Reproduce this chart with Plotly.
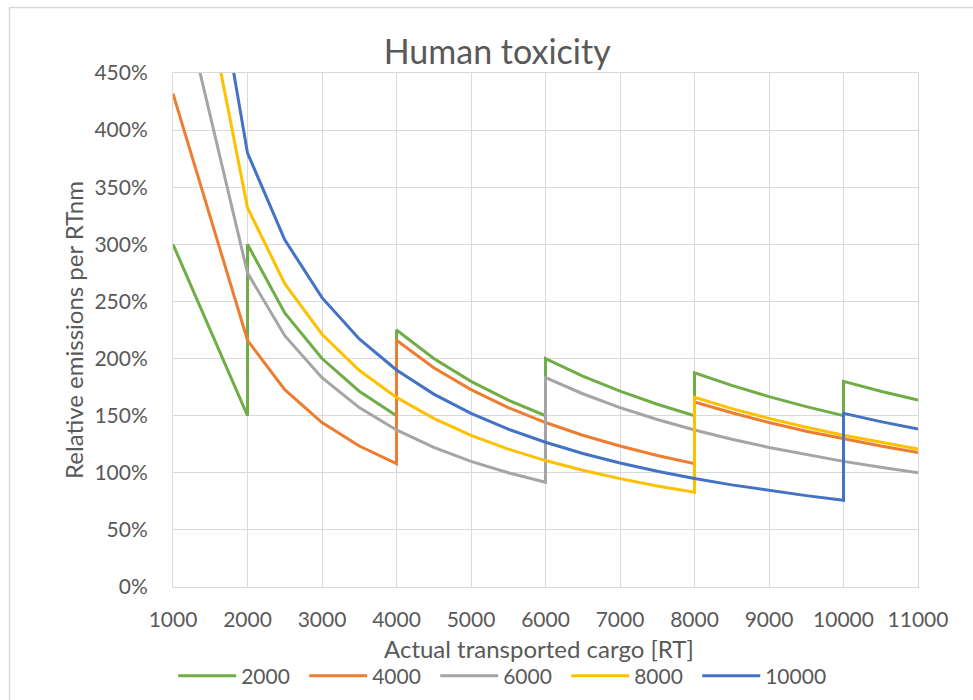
import plotly.graph_objects as go

# Relative emissions per RTnm (%) against actual transported cargo (RT),
# one series per vessel size. Repeated x values mark the step where an
# extra vessel is needed.
series_names = ["2000", "4000", "6000", "8000", "10000"]
series_colors = ["#70AD47", "#ED7D31", "#A5A5A5", "#FFC000", "#4472C4"]

x_2000 = [1000, 2000, 2000, 2500, 3000, 3500, 4000, 4000, 4500, 5000, 5500, 6000,
          6000, 6500, 7000, 7500, 8000, 8000, 8500, 9000, 9500, 10000, 10000, 10500, 11000]
y_2000 = [300, 150, 300, 240, 200, 171.4, 150, 225, 200, 180, 163.6, 150,
          200, 184.6, 171.4, 160, 150, 187.5, 176.5, 166.7, 157.9, 150, 180, 171.4, 163.6]

x_4000 = [1000, 2000, 2500, 3000, 3500, 4000, 4000, 4500, 5000, 5500, 6000, 6500,
          7000, 7500, 8000, 8000, 8500, 9000, 9500, 10000, 10500, 11000]
y_4000 = [432, 216, 172.8, 144, 123.4, 108, 216, 192, 172.8, 157.1, 144, 132.9,
          123.4, 115.2, 108, 162, 152.5, 144, 136.4, 129.6, 123.4, 117.8]

x_6000 = [1000, 2000, 2500, 3000, 3500, 4000, 4500, 5000, 5500, 6000, 6000, 6500,
          7000, 7500, 8000, 8500, 9000, 9500, 10000, 10500, 11000]
y_6000 = [550, 275, 220, 183.3, 157.1, 137.5, 122.2, 110, 100, 91.7, 183.3, 169.2,
          157.1, 146.7, 137.5, 129.4, 122.2, 115.8, 110, 104.8, 100]

x_8000 = [1000, 2000, 2500, 3000, 3500, 4000, 4500, 5000, 5500, 6000, 6500, 7000,
          7500, 8000, 8000, 8500, 9000, 9500, 10000, 10500, 11000]
y_8000 = [664, 332, 265.6, 221.3, 189.7, 166, 147.6, 132.8, 120.7, 110.7, 102.2, 94.9,
          88.5, 83, 166, 156.2, 147.6, 139.8, 132.8, 126.5, 120.7]

x_10000 = [1000, 2000, 2500, 3000, 3500, 4000, 4500, 5000, 5500, 6000, 6500, 7000,
           7500, 8000, 8500, 9000, 9500, 10000, 10000, 10500, 11000]
y_10000 = [760, 380, 304, 253.3, 217.1, 190, 168.9, 152, 138.2, 126.7, 116.9, 108.6,
           101.3, 95, 89.4, 84.4, 80, 76, 152, 144.8, 138.2]

x_ticks = [1000, 2000, 3000, 4000, 5000, 6000, 7000, 8000, 9000, 10000, 11000]
y_ticks = [0, 50, 100, 150, 200, 250, 300, 350, 400, 450]
y_tick_labels = ["0%", "50%", "100%", "150%", "200%", "250%", "300%", "350%", "400%", "450%"]

xs = [x_2000, x_4000, x_6000, x_8000, x_10000]
ys = [y_2000, y_4000, y_6000, y_8000, y_10000]

FONT = "Lato"
TEXT = "#595959"
GRID = "#D9D9D9"

fig = go.Figure()
for name, color, xv, yv in zip(series_names, series_colors, xs, ys):
    fig.add_trace(go.Scatter(
        x=xv, y=yv, name=name, mode="lines",
        line=dict(color=color, width=3),
    ))

fig.update_layout(
    width=973, height=700,
    margin=dict(l=173, r=55, t=73, b=113, autoexpand=False),
    paper_bgcolor="white", plot_bgcolor="white",
    font=dict(family=FONT, color=TEXT, size=21),
    title=dict(text="Human toxicity", x=0.511, xanchor="center",
               y=0.925, yanchor="middle",
               font=dict(family=FONT, size=34, color=TEXT)),
    showlegend=True,
    legend=dict(orientation="h", xref="container", yref="container",
                x=0.178, xanchor="left", y=0.034, yanchor="middle",
                entrywidth=58, itemwidth=58,
                font=dict(family=FONT, size=21, color=TEXT)),
    xaxis=dict(range=[1000, 11000], tickvals=x_ticks, ticktext=[str(v) for v in x_ticks],
               automargin=False,
               showgrid=True, gridcolor=GRID, gridwidth=1,
               showline=True, linecolor=GRID, linewidth=1, mirror=True,
               zeroline=False, ticks="", ticklabelstandoff=14,
               tickfont=dict(family=FONT, size=21, color=TEXT)),
    yaxis=dict(range=[0, 450], tickvals=y_ticks, ticktext=y_tick_labels,
               automargin=False,
               showgrid=True, gridcolor=GRID, gridwidth=1,
               showline=True, linecolor=GRID, linewidth=1, mirror=True,
               zeroline=False, ticks="", ticklabelstandoff=20,
               tickfont=dict(family=FONT, size=21, color=TEXT),
               title=dict(text="Relative emissions per RTnm", standoff=4,
                          font=dict(family=FONT, size=24, color=TEXT))),
)

# X-axis title placed below the tick labels
fig.add_annotation(text="Actual transported cargo [RT]", xref="paper", yref="paper",
                   x=0.4913, y=-0.1187, xanchor="center", yanchor="middle",
                   showarrow=False, font=dict(family=FONT, size=24, color=TEXT))

# Outer chart border (top and left edges visible in the frame)
fig.add_shape(type="rect", xref="paper", yref="paper",
              x0=(9.5 - 173) / 745, x1=2.0, y0=-1.0, y1=(587 - 7.5) / 514,
              line=dict(color=GRID, width=1.5), fillcolor="rgba(0,0,0,0)", layer="below")

fig.write_html("out.html")
